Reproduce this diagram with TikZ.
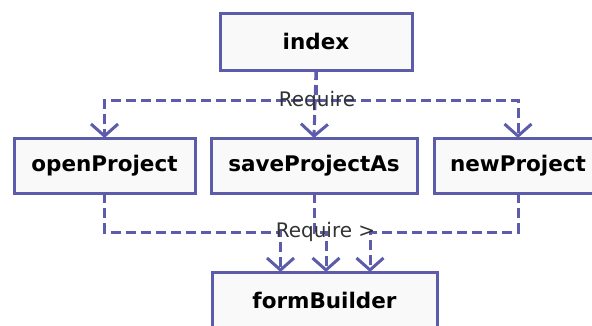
\documentclass[tikz,border=0pt]{standalone}
\usepackage{fontspec}
\setmainfont{DejaVu Sans}
\usetikzlibrary{arrows.meta}
\definecolor{umlblue}{RGB}{92,92,170}
\definecolor{umlfill}{RGB}{249,249,249}
\begin{document}
\begin{tikzpicture}[x=1pt,y=-1pt,
  cls/.style={shape=rectangle,draw=umlblue,fill=umlfill,line width=3pt,outer sep=0pt,minimum height=55pt,font=\fontsize{21.5}{24}\selectfont\bfseries},
  dep/.style={draw=umlblue,line width=3pt,dash pattern=on 10pt off 5pt,-{Straight Barb[length=12pt,width=27pt]}},
  req/.style={font=\fontsize{20}{22}\selectfont,text=black!80,inner sep=0pt}]
\useasboundingbox (0,0) rectangle (592,325);
\node[cls,minimum width=192pt,minimum height=57pt] (index) at (316,41.5) {index};
\node[cls,minimum width=181pt] (openProject) at (104.5,165.5) {openProject};
\node[cls,minimum width=206pt] (saveProjectAs) at (314,165.5) {saveProjectAs};
\node[cls,minimum width=168pt] (newProject) at (518,165.5) {newProject};
\node[cls,minimum width=225pt,minimum height=56pt] (formBuilder) at (324.5,300) {formBuilder};

\path [dep] (index.south) -- ++(0,30) -| (openProject.north);
\path [dep] (index.south) -- (saveProjectAs.north);
\path [dep] (index.south) -- ++(0,30) -| (newProject.north);
\path [dep] (openProject.south) -- ++(0,39) -| ([xshift=-44pt]formBuilder.north);
\path [dep] (saveProjectAs.south) -- ++(0,39) -| ([xshift=1.5pt]formBuilder.north);
\path [dep] (newProject.south) -- ++(0,39) -| ([xshift=45.5pt]formBuilder.north);

\node[req] (require1) at (317,101) {Require};
\node[req] (require2) at (325.5,232) {Require >};
\end{tikzpicture}
\end{document}
